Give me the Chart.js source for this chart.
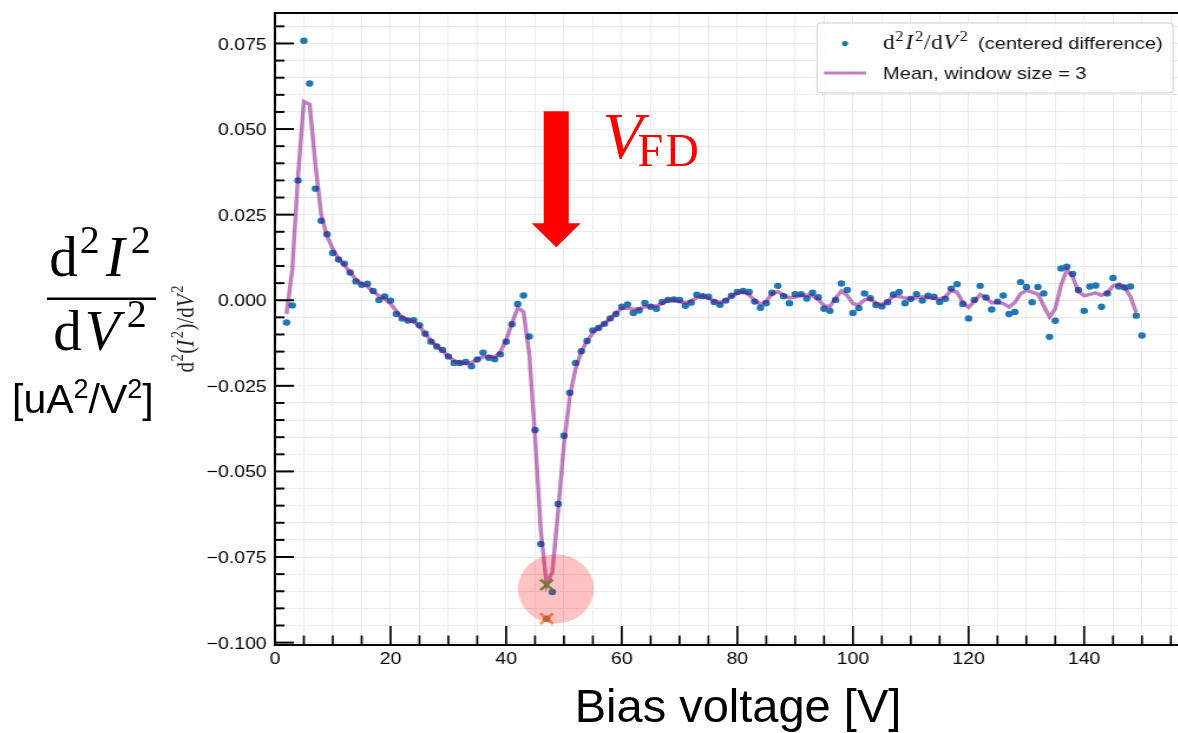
<!DOCTYPE html>
<html><head><meta charset="utf-8">
<script src="https://cdn.jsdelivr.net/npm/chart.js@4.4.1/dist/chart.umd.min.js"></script>
<style>
html,body{margin:0;padding:0;background:#fff;overflow:hidden;width:1178px;height:733px;}
#wrap{position:relative;width:1178px;height:733px;overflow:hidden;background:#fff;}
#c{position:absolute;left:0;top:0;transform:scaleX(1.18);transform-origin:0 0;}
#ov{position:absolute;left:0;top:0;pointer-events:none;}
</style></head><body>
<div id="wrap"><canvas id="c" width="1004" height="733" style="width:1004px;height:733px"></canvas><canvas id="ov" width="1178" height="733"></canvas></div>
<script>
// ---- data ----
const biasVoltage = [2,3,4,5,6,7,8,9,10,11,12,13,14,15,16,17,18,19,20,21,22,23,24,25,26,27,28,29,30,31,
 32,33,34,35,36,37,38,39,40,41,42,43,44,45,46,47,48,49,50,51,52,53,54,55,56,57,58,59,60,61,
 62,63,64,65,66,67,68,69,70,71,72,73,74,75,76,77,78,79,80,81,82,83,84,85,86,87,88,89,90,91,
 92,93,94,95,96,97,98,99,100,101,102,103,104,105,106,107,108,109,110,111,112,113,114,115,116,117,118,119,120,121,
 122,123,124,125,126,127,128,129,130,131,132,133,134,135,136,137,138,139,140,141,142,143,144,145,146,147,148,149,150];
const d2I2 = [
 -0.0065,-0.0015,0.0350,0.0758,0.0633,0.0326,0.0232,0.0193,0.0138,0.0119,
 0.0107,0.0081,0.0055,0.0045,0.0048,0.0027,0.0001,0.0011,-0.0001,-0.0040,
 -0.0053,-0.0059,-0.0058,-0.0073,-0.0098,-0.0121,-0.0135,-0.0145,-0.0164,-0.0183,
 -0.0183,-0.0180,-0.0193,-0.0173,-0.0153,-0.0168,-0.0172,-0.0158,-0.0121,-0.0070,
 -0.0011,0.0014,-0.0106,-0.0379,-0.0712,-0.0930,-0.0852,-0.0595,-0.0396,-0.0270,
 -0.0183,-0.0149,-0.0119,-0.0088,-0.0081,-0.0069,-0.0053,-0.0040,-0.0019,-0.0012,
 -0.0037,-0.0030,-0.0008,-0.0019,-0.0025,-0.0005,0.0001,0.0002,0.0001,-0.0016,
 -0.0007,0.0016,0.0012,0.0010,-0.0005,-0.0013,-0.0001,0.0013,0.0024,0.0027,
 0.0024,-0.0004,-0.0022,-0.0009,0.0022,0.0042,0.0012,-0.0009,0.0018,0.0018,
 0.0005,0.0022,0.0009,-0.0025,-0.0031,0.0001,0.0049,0.0030,-0.0037,-0.0023,
 0.0020,0.0006,-0.0014,-0.0018,-0.0006,0.0017,0.0024,-0.0009,0.0004,0.0018,
 -0.0001,0.0013,0.0010,-0.0005,0.0004,0.0034,0.0047,-0.0011,-0.0053,0.0001,
 0.0042,0.0008,-0.0027,-0.0004,0.0014,-0.0040,-0.0034,0.0053,0.0039,-0.0006,
 0.0039,0.0020,-0.0107,-0.0060,0.0093,0.0098,0.0077,0.0030,-0.0031,0.0040,
 0.0043,-0.0019,0.0020,0.0065,0.0040,0.0037,0.0040,-0.0045,-0.0103];
const windowSize = 3;
const xMajorTicks = [0,20,40,60,80,100,120,140];
const yMajorTicks = [-0.100,-0.075,-0.050,-0.025,0.000,0.025,0.050,0.075];
const legendLabels = ['(centered difference)','Mean, window size = 3'];
const xTitle = 'Bias voltage [V]';

// rolling mean (window 3, centred) as plotted in the reference
const half = Math.floor(windowSize/2);
const meanD2 = d2I2.map((v,i) => {
  if (i + half > d2I2.length - 1) return null;
  const w = d2I2.slice(Math.max(0,i-half), i+half+1);
  return w.reduce((a,b)=>a+b,0)/w.length;
});
let iMinMean = 0, iMinData = 0;
meanD2.forEach((v,i)=>{ if (v!==null && v < meanD2[iMinMean]) iMinMean = i; });
d2I2.forEach((v,i)=>{ if (v < d2I2[iMinData]) iMinData = i; });

const S = 1.18;
const SANS = '"Liberation Sans", Arial, sans-serif';
const SERIF = '"Liberation Serif", "Times New Roman", serif';

function drawRuns(ctx, runs, x, y, align) {
  let total = 0;
  runs.forEach(r => { ctx.font = r.font; r.w = ctx.measureText(r.t).width + (r.gap||0); total += r.w; });
  let cx = align === 'center' ? x - total/2 : x;
  runs.forEach(r => { ctx.font = r.font; ctx.fillText(r.t, cx, y + (r.dy||0)); cx += r.w; });
  return total;
}

const decor = {
  id: 'decor',
  afterDatasetsDraw(chart) {
    const ctx = chart.ctx, xs = chart.scales.x, ys = chart.scales.y, a = chart.chartArea;
    // red highlight ellipse
    const ecx = 48.6, ecy = -0.0843, erx = 6.58, ery = 0.0101;
    const px = xs.getPixelForValue(ecx), py = ys.getPixelForValue(ecy);
    const rx = Math.abs(xs.getPixelForValue(ecx+erx)-px), ry = Math.abs(ys.getPixelForValue(ecy+ery)-py);
    ctx.save();
    ctx.fillStyle = 'rgba(255,0,0,0.24)';
    ctx.beginPath(); ctx.ellipse(px, py, rx, ry, 0, 0, Math.PI*2); ctx.fill();
    ctx.restore();
    // spines + inward ticks
    ctx.save();
    ctx.strokeStyle = '#000';
    ctx.lineWidth = 2;
    ctx.beginPath(); ctx.moveTo(a.left, a.top); ctx.lineTo(a.right, a.top); ctx.stroke();
    ctx.lineWidth = 1.7;
    xs.ticks.forEach(t => {
      const x = xs.getPixelForValue(t.value);
      const major = xMajorTicks.some(m => Math.abs(m - t.value) < 1e-6);
      const len = major ? 19 : 9.5;
      ctx.beginPath(); ctx.moveTo(x, a.bottom); ctx.lineTo(x, a.bottom - len); ctx.stroke();
    });
    ctx.lineWidth = 2;
    ys.ticks.forEach(t => {
      const y = ys.getPixelForValue(t.value);
      const major = yMajorTicks.some(m => Math.abs(m - t.value) < 1e-6);
      const len = (major ? 19 : 9.5) / S;
      ctx.beginPath(); ctx.moveTo(a.left, y); ctx.lineTo(a.left + len, y); ctx.stroke();
    });
    ctx.restore();
  },
  afterDraw(chart) {
    const ctx = chart.ctx, xs = chart.scales.x, ys = chart.scales.y, a = chart.chartArea;
    // legend (inside the stretched axes image)
    ctx.save();
    const lx = 692.4, ly = 23, lw = 301.7, lh = 70;
    ctx.fillStyle = 'rgba(255,255,255,0.9)';
    ctx.strokeStyle = '#d0d0d0'; ctx.lineWidth = 1;
    ctx.beginPath(); ctx.roundRect(lx, ly, lw, lh, 3); ctx.fill(); ctx.stroke();
    ctx.fillStyle = '#1f77b4';
    ctx.beginPath(); ctx.arc(716.1, 43.5, 2.6, 0, Math.PI*2); ctx.fill();
    ctx.strokeStyle = 'rgba(128,0,128,0.5)'; ctx.lineWidth = 3;
    ctx.beginPath(); ctx.moveTo(698.3, 73); ctx.lineTo(733.9, 73); ctx.stroke();
    ctx.fillStyle = '#111';
    ctx.textBaseline = 'alphabetic';
    drawRuns(ctx, [
      {t:'d', font:'20px '+SERIF, gap:0.5},
      {t:'2', font:'14px '+SERIF, dy:-8, gap:1.5},
      {t:'I', font:'italic 20px '+SERIF, gap:1.5},
      {t:'2', font:'14px '+SERIF, dy:-8, gap:0.5},
      {t:'/', font:'20px '+SERIF, gap:0.5},
      {t:'d', font:'20px '+SERIF, gap:0.5},
      {t:'V', font:'italic 20px '+SERIF, gap:1.5},
      {t:'2', font:'14px '+SERIF, dy:-8}
    ], 748.3, 48.5, 'left');
    ctx.font = '17px ' + SANS;
    ctx.fillText(legendLabels[0], 828.8, 48.5);
    ctx.fillText(legendLabels[1], 748.3, 79);
    // rotated small y-axis label
    ctx.translate(164, 329); ctx.rotate(-Math.PI/2);
    ctx.fillStyle = '#222';
    drawRuns(ctx, [
      {t:'d', font:'21px '+SERIF, gap:0.5},
      {t:'2', font:'14.5px '+SERIF, dy:-9, gap:0.5},
      {t:'(', font:'21px '+SERIF},
      {t:'I', font:'italic 21px '+SERIF, gap:1.5},
      {t:'2', font:'14.5px '+SERIF, dy:-9, gap:0.5},
      {t:')', font:'21px '+SERIF},
      {t:'/', font:'21px '+SERIF},
      {t:'d', font:'21px '+SERIF},
      {t:'V', font:'italic 21px '+SERIF, gap:1.5},
      {t:'2', font:'14.5px '+SERIF, dy:-9}
    ], 0, 0, 'center');
    ctx.restore();

    // ---- unstretched overlay (annotations & big labels) ----
    const ov = document.getElementById('ov').getContext('2d');
    ov.clearRect(0,0,1178,733);
    ov.textBaseline = 'alphabetic';
    // arrow (data-anchored)
    const arrowX = 48.66, arrowTop = 0.0552, arrowTip = 0.0155;
    const ax = xs.getPixelForValue(arrowX) * S, aTop = ys.getPixelForValue(arrowTop), aTip = ys.getPixelForValue(arrowTip);
    const shaftHalf = 12.5, headHalf = 24.5, headLen = 24;
    ov.fillStyle = '#ff0000';
    ov.beginPath();
    ov.moveTo(ax - shaftHalf, aTop); ov.lineTo(ax + shaftHalf, aTop);
    ov.lineTo(ax + shaftHalf, aTip - headLen); ov.lineTo(ax + headHalf, aTip - headLen);
    ov.lineTo(ax, aTip); ov.lineTo(ax - headHalf, aTip - headLen);
    ov.lineTo(ax - shaftHalf, aTip - headLen); ov.closePath(); ov.fill();
    // V_FD label
    const vfdX = xs.getPixelForValue(57.0) * S, vfdY = ys.getPixelForValue(0.0415);
    ov.fillStyle = '#ff0000';
    ov.font = 'italic 66px ' + SERIF; ov.fillText('V', vfdX - 2, vfdY);
    drawRuns(ov, [
      {t:'F', font:'46px '+SERIF, gap:2.5},
      {t:'D', font:'46px '+SERIF}
    ], vfdX + 33, vfdY + 8, 'left');
    // big fraction label
    ov.fillStyle = '#000';
    drawRuns(ov, [
      {t:'d', font:'57px '+SERIF, gap:2},
      {t:'2', font:'40px '+SERIF, dy:-23, gap:6},
      {t:'I', font:'italic 57px '+SERIF, gap:6},
      {t:'2', font:'40px '+SERIF, dy:-23}
    ], 100, 276, 'center');
    ov.fillRect(47, 297.5, 109, 2.5);
    drawRuns(ov, [
      {t:'d', font:'57px '+SERIF, gap:3},
      {t:'V', font:'italic 57px '+SERIF, gap:7},
      {t:'2', font:'40px '+SERIF, dy:-23}
    ], 100, 350, 'center');
    drawRuns(ov, [
      {t:'[uA', font:'41px '+SANS},
      {t:'2', font:'27px '+SANS, dy:-15},
      {t:'/V', font:'41px '+SANS},
      {t:'2', font:'27px '+SANS, dy:-15},
      {t:']', font:'41px '+SANS}
    ], 12, 413, 'left');
    ov.font = '47px ' + SANS; ov.textAlign = 'center';
    ov.fillText(xTitle, 738, 722);
    ov.textAlign = 'left';
  }
};

function xLabel(v) {
  const m = xMajorTicks.find(t => Math.abs(t - v) < 1e-6);
  return m === undefined ? '' : String(m);
}
function yLabel(v) {
  const m = yMajorTicks.find(t => Math.abs(t - v) < 1e-6);
  return m === undefined ? '' : m.toFixed(3).replace('-', '\u2212');
}

new Chart(document.getElementById('c'), {
  type: 'scatter',
  data: {
    datasets: [
      { type:'scatter', label:'mean min', order:-1,
        data:[{x:biasVoltage[iMinMean], y:meanD2[iMinMean]}],
        pointStyle:'crossRot', pointRadius:7.5, borderWidth:2.7,
        borderColor:'rgba(44,160,44,0.85)', backgroundColor:'rgba(0,0,0,0)' },
      { type:'scatter', label:'data min', order:-1,
        data:[{x:biasVoltage[iMinData], y:d2I2[iMinData]}],
        pointStyle:'crossRot', pointRadius:7.5, borderWidth:2.7,
        borderColor:'rgba(255,127,14,0.75)', backgroundColor:'rgba(0,0,0,0)' },
      { type:'line', label:legendLabels[1], order:0,
        data: biasVoltage.map((v,i)=>({x:v, y:meanD2[i]})),
        borderColor:'rgba(128,0,128,0.5)', borderWidth:3.5, pointRadius:0,
        tension:0, fill:false, spanGaps:false },
      { type:'scatter', label:legendLabels[0], order:1,
        data: biasVoltage.map((v,i)=>({x:v, y:d2I2[i]})),
        pointRadius:3.2, borderWidth:0, backgroundColor:'#1f77b4' }
    ]
  },
  options: {
    responsive:false, animation:false, devicePixelRatio:1,
    layout:{ autoPadding:false, padding:{ top:13, left:0, right:0, bottom:0 } },
    plugins:{ legend:{display:false}, tooltip:{enabled:false} },
    scales:{
      x:{ type:'linear', min:0, max:157.4,
        afterFit(s){ s.height = 88; s.paddingLeft = 0; s.paddingRight = 0; },
        grid:{ color:'#ebebeb', lineWidth:1, drawTicks:false },
        border:{ display:true, color:'#000', width:2 },
        ticks:{ stepSize:5, autoSkip:false, includeBounds:false, maxRotation:0, padding:5,
          color:'#000', font:{ family:SANS, size:16.5 }, callback:xLabel } },
      y:{ type:'linear', min:-0.1007, max:0.0839,
        afterFit(s){ s.width = 233; s.paddingTop = 0; s.paddingBottom = 0; },
        grid:{ color:'#ebebeb', lineWidth:1, drawTicks:false },
        border:{ display:true, color:'#000', width:2 },
        ticks:{ stepSize:0.005, autoSkip:false, includeBounds:false, padding:7, labelOffset:1.5,
          color:'#000', font:{ family:SANS, size:16.5 }, callback:yLabel } }
    }
  },
  plugins:[decor]
});
</script>
</body></html>
